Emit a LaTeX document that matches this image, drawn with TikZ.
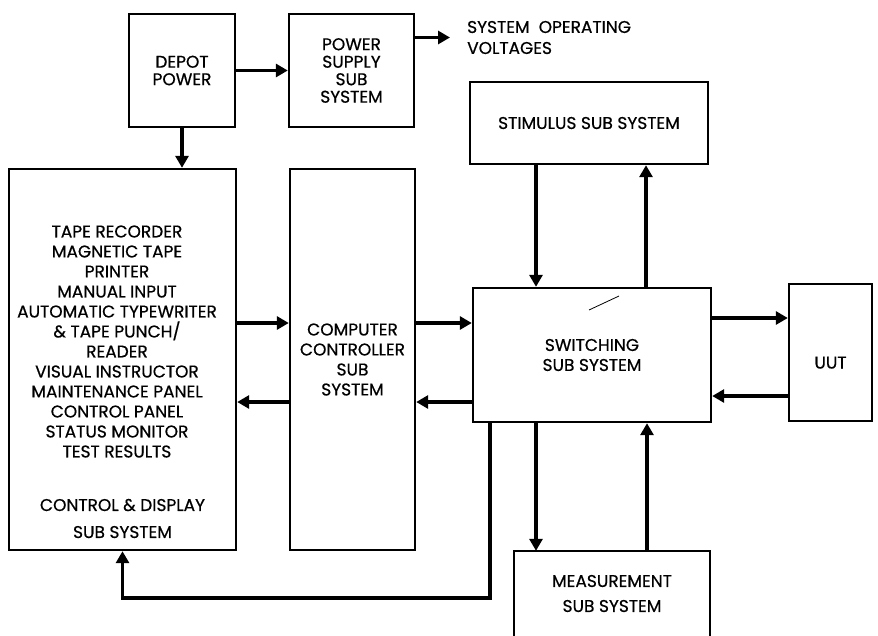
\documentclass[tikz,border=0pt]{standalone}
\usepackage{fontspec}
\setmainfont{Poppins}[FakeBold=0.6]
\usetikzlibrary{arrows.meta}

\begin{document}
\begin{tikzpicture}[x=1pt,y=-1pt]
% \tikzstyle{every path}=[thick]

\tikzstyle{subsys}=[draw,line width=2.4pt,inner sep=0pt,align=center,
  font=\fontsize{17}{20}\selectfont]
\tikzstyle{label}=[inner sep=0pt,align=center,font=\fontsize{17}{20}\selectfont]
\tikzstyle{flow}=[->,>={Triangle[length=12pt,width=13pt]},line width=3.6pt]

\useasboundingbox (0,0) rectangle (878,635);

%% Draw power boxes
\node [subsys,minimum width=106,minimum height=113,
  font=\fontsize{17}{17.5}\selectfont] (depot) at (182,70.5) {DEPOT\\POWER};
\node [subsys,minimum width=125,minimum height=113,
  font=\fontsize{17}{17.5}\selectfont] (psu) at (351.5,70.5)
  {POWER\\SUPPLY\\SUB\\SYSTEM};
\node [label,anchor=west,align=left,font=\fontsize{17}{21}\selectfont] (volt)
  at (467,37.5) {SYSTEM~~OPERATING\\VOLTAGES};

%% Draw sub systems
\node [subsys,minimum width=238,minimum height=82] (stim) at (589,123)
  {STIMULUS SUB SYSTEM};
\node [subsys,minimum width=227,minimum height=381] (cdu) at (122.5,359.5) {};
\node [label] (cdulist) at (117,341.5) {TAPE RECORDER\\MAGNETIC TAPE\\PRINTER\\
  MANUAL INPUT\\AUTOMATIC TYPEWRITER\\\& TAPE PUNCH/\\READER\\
  VISUAL INSTRUCTOR\\MAINTENANCE PANEL\\CONTROL PANEL\\STATUS MONITOR\\
  TEST RESULTS};
\node [label,font=\fontsize{17}{27}\selectfont] (cdutitle) at (122.5,518.5)
  {CONTROL \& DISPLAY\\SUB SYSTEM};
\node [subsys,minimum width=125,minimum height=381] (comp) at (352.5,359.5)
  {COMPUTER\\CONTROLLER\\SUB\\SYSTEM};
\node [subsys,minimum width=238,minimum height=134] (sw) at (592,355)
  {SWITCHING\\SUB SYSTEM};
\node [subsys,minimum width=83,minimum height=137,text height=32pt,
  text depth=0pt] (uut) at (830.5,352.5) {UUT};
\node [subsys,draw=none,minimum width=194,minimum height=83,
  font=\fontsize{17}{25}\selectfont] (meas) at (612,593.5)
  {MEASUREMENT\\SUB SYSTEM};
\draw [line width=2.4pt] (meas.south west) |- (meas.north east) -- (meas.south east);

% stray mark
\draw [line width=0.8pt] (589,310) -- (619,296);

%% Draw connections
\draw[flow] (depot.east) -- (psu.west);
\draw[flow] (depot.south) -- (depot.south |- cdu.north);
\draw[flow] (psu.east |- volt.west) -- ([xshift=-17pt]volt.west);

\draw[flow] ([yshift=36.5pt]cdu.east) -- ([yshift=36.5pt]comp.west);
\draw[flow] ([yshift=-42.5pt]comp.west) -- ([yshift=-42.5pt]cdu.east);
\draw[flow] ([yshift=36.5pt]comp.east) -- ([yshift=32pt]sw.west);
\draw[flow] ([yshift=-47pt]sw.west) -- ([yshift=-42.5pt]comp.east);

\draw[flow] ([yshift=37pt]sw.east) -- ([yshift=34.5pt]uut.west);
\draw[flow] ([yshift=-43.5pt]uut.west) -- ([yshift=-41pt]sw.east);

\draw[flow] ([xshift=-53pt]stim.south) -- ([xshift=-56pt]sw.north);
\draw[flow] ([xshift=54pt]sw.north) -- ([xshift=57pt]stim.south);
\draw[flow] ([xshift=-56pt]sw.south) -- ([xshift=-76pt]meas.north);
\draw[flow] ([xshift=35pt]meas.north) -- ([xshift=55pt]sw.south);

\draw[flow] ([xshift=-102pt]sw.south) -- ++(0,175) -| (cdu.south);

\end{tikzpicture}
\end{document}
